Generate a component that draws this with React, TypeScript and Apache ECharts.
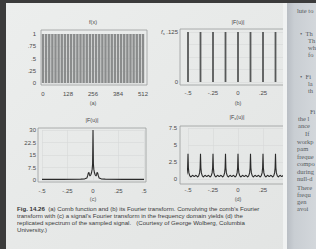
import React, { useEffect, useRef } from 'react';
import * as echarts from 'echarts';

// (a) comb function f(x): positions of teeth and their heights
const combAX = [0, 16, 32, 48, 64, 80, 96, 112, 128, 144, 160, 176, 192, 208, 224, 240, 256, 272, 288, 304, 320, 336, 352, 368, 384, 400, 416, 432, 448, 464, 480, 496, 512];
const combAY = [1, 1, 1, 1, 1, 1, 1, 1, 1, 1, 1, 1, 1, 1, 1, 1, 1, 1, 1, 1, 1, 1, 1, 1, 1, 1, 1, 1, 1, 1, 1, 1, 1];

// (b) Fourier transform of comb
const combBU = [-0.5, -0.375, -0.25, -0.125, 0, 0.125, 0.25, 0.375, 0.5];
const combBV = [0.125, 0.125, 0.125, 0.125, 0.125, 0.125, 0.125, 0.125, 0.125];

// (c) signal spectrum |F(u)|
const specU = [-0.5, -0.3, -0.12, -0.08, -0.06, -0.052, -0.046, -0.04, -0.035, -0.03, -0.022, -0.014, -0.008, -0.004, 0, 0.004, 0.008, 0.014, 0.022, 0.03, 0.035, 0.04, 0.046, 0.052, 0.06, 0.08, 0.12, 0.3, 0.5];
const specV = [0.4, 0.4, 0.5, 0.7, 1.2, 2.6, 4.2, 4.6, 3.2, 2.4, 3.0, 4.5, 6.5, 9.5, 30, 9.5, 6.5, 4.5, 3.0, 2.4, 3.2, 4.6, 4.2, 2.6, 1.2, 0.7, 0.5, 0.4, 0.4];

// (d) sampled spectrum |Fs(u)|: replica centres and one replica's shape
const replicaCentres = [-0.5, -0.375, -0.25, -0.125, 0, 0.125, 0.25, 0.375, 0.5];
const replicaOffsets = [-0.0625, -0.045, -0.03, -0.018, -0.009, -0.004, 0, 0.004, 0.009, 0.018, 0.03, 0.045];
const replicaValues = [0.35, 0.55, 0.3, 0.45, 0.9, 1.6, 3.7, 1.6, 0.9, 0.45, 0.3, 0.55];

// tick labels
const xLabelsA = ['0', '128', '256', '384', '512'];
const yLabelsA = ['0', '.25', '.5', '.75', '1'];
const freqLabels = ['-.5', '-.25', '0', '.25', '.5'];
const yLabelsB = ['0', '', '', '', '{f|f}{s|s} .125'];
const yLabelsC = ['0', '7.5', '15', '22.5', '30'];
const yLabelsD = ['0', '2.5', '5', '7.5'];

const titles = ['f(x)', '|F(u)|', '|F(u)|', '|F'];
const panelTags = ['(a)', '(b)', '(c)', '(d)'];

const captionLines = [
  '{b|Fig. 14.26}  (a) Comb function and (b) its Fourier transform. Convolving the comb\u2019s Fourier',
  'transform with (c) a signal\u2019s Fourier transform in the frequency domain yields (d) the',
  'replicated spectrum of the sampled signal.   (Courtesy of George Wolberg, Columbia',
  'University.)',
];

const rightPageLines: [string, number, number][] = [
  ['lute to', 297, 10],
  ['\u2022  Th', 300, 33],
  ['Th', 308, 40],
  ['wh', 308, 47],
  ['fo', 308, 54],
  ['\u2022  Fi', 300, 76],
  ['la', 308, 83],
  ['th', 308, 90],
  ['Fi', 310, 111],
  ['the l', 298, 118],
  ['ance', 298, 125],
  ['If', 305, 133],
  ['workp', 297, 141],
  ['pam', 297, 148],
  ['freque', 297, 156],
  ['compo', 297, 163],
  ['during', 297, 171],
  ['null-d', 297, 178],
  ['There', 297, 187],
  ['frequ', 297, 194],
  ['gen', 297, 201],
  ['avoi', 297, 208],
];

const FONT = 'Liberation Sans, Arial, sans-serif';
const LABEL = '#4a4a4a';
const SPLIT = '#d6d9d9';

function idxFmt(labels: string[], min: number, step: number) {
  return (v: number) => {
    const i = Math.round((v - min) / step);
    return labels[i] ?? '';
  };
}

export default function App() {
  const ref = useRef<HTMLDivElement>(null);
  useEffect(() => {
    if (!ref.current) return;
    const chart = echarts.init(ref.current, undefined, { renderer: 'svg' });

    const dData: [number, number][] = [];
    replicaCentres.forEach((c) => {
      replicaOffsets.forEach((o, k) => dData.push([c + o, replicaValues[k]]));
    });
    dData.sort((p, q) => p[0] - q[0]);

    const axisLabelBase = { fontSize: 6, color: LABEL, fontFamily: FONT, showMinLabel: true, showMaxLabel: true };
    const splitLine = { show: true, lineStyle: { color: SPLIT, width: 0.6 } };

    const frames = [
      [41, 30, 106, 55],
      [180, 29, 118, 56],
      [38, 128, 108, 54],
      [180, 126, 118, 58],
    ];

    const graphic: any[] = [
      { type: 'rect', shape: { x: 6, y: 3, width: 310, height: 246 }, style: { fill: new echarts.graphic.LinearGradient(0, 0, 1, 1, [{ offset: 0, color: '#eceeed' }, { offset: 1, color: '#e2e4e3' }]) }, z: -10, silent: true },
      ...frames.map((f) => ({ type: 'rect', shape: { x: f[0], y: f[1], width: f[2], height: f[3] }, style: { fill: 'rgba(0,0,0,0)', stroke: '#9a9c9c', lineWidth: 0.8 }, z: 5, silent: true })),
      { type: 'text', x: 93, y: 22, style: { text: titles[0], fontSize: 5.5, fill: '#444', fontFamily: FONT, align: 'center', verticalAlign: 'middle' }, z: 6 },
      { type: 'text', x: 238, y: 22, style: { text: titles[1], fontSize: 5.5, fill: '#444', fontFamily: FONT, align: 'center', verticalAlign: 'middle' }, z: 6 },
      { type: 'text', x: 92, y: 120, style: { text: titles[2], fontSize: 5.5, fill: '#444', fontFamily: FONT, align: 'center', verticalAlign: 'middle' }, z: 6 },
      { type: 'text', x: 237, y: 117, style: { text: '{n|' + titles[3] + '}{s|s}{n|(u)|}', rich: { n: { fontSize: 5.5, fill: '#444', fontFamily: FONT }, s: { fontSize: 4, fill: '#444', fontFamily: FONT, padding: [3, 0, 0, 0] } }, align: 'center', verticalAlign: 'middle' }, z: 6 },
      { type: 'text', x: 93, y: 103, style: { text: panelTags[0], fontSize: 5.5, fill: '#555', fontFamily: FONT, align: 'center', verticalAlign: 'middle' }, z: 6 },
      { type: 'text', x: 238, y: 103, style: { text: panelTags[1], fontSize: 5.5, fill: '#555', fontFamily: FONT, align: 'center', verticalAlign: 'middle' }, z: 6 },
      { type: 'text', x: 93, y: 199, style: { text: panelTags[2], fontSize: 5.5, fill: '#555', fontFamily: FONT, align: 'center', verticalAlign: 'middle' }, z: 6 },
      { type: 'text', x: 238, y: 199, style: { text: panelTags[3], fontSize: 5.5, fill: '#555', fontFamily: FONT, align: 'center', verticalAlign: 'middle' }, z: 6 },
      ...captionLines.map((t, i) => ({
        type: 'text', x: 17, y: 208 + i * 7,
        style: { text: t, fontSize: 6.1, fill: '#3a3a3a', fontFamily: FONT, verticalAlign: 'middle', rich: { b: { fontSize: 6.1, fontWeight: 'bold', fill: '#333', fontFamily: FONT } } },
        z: 6,
      })),
      { type: 'rect', shape: { x: 283, y: 3, width: 5, height: 246 }, style: { fill: '#f0f2f2' }, z: 50, silent: true },
      { type: 'rect', shape: { x: 287, y: 3, width: 29, height: 246 }, style: { fill: new echarts.graphic.LinearGradient(0, 0, 1, 0, [{ offset: 0, color: '#b9bec4' }, { offset: 0.25, color: '#c9ced3' }, { offset: 1, color: '#d3d7db' }]) }, z: 50, silent: true },
      ...rightPageLines.map(([t, x, y]) => ({
        type: 'text', x, y,
        style: { text: t, fontSize: 6.5, fill: '#555a60', fontFamily: 'Liberation Serif, DejaVu Serif, serif', verticalAlign: 'middle' },
        z: 51,
      })),
      { type: 'rect', shape: { x: 0, y: 0, width: 316, height: 3 }, style: { fill: '#3b3b3b' }, z: 60, silent: true },
      { type: 'rect', shape: { x: 0, y: 0, width: 6, height: 249 }, style: { fill: '#3b3b3b' }, z: 60, silent: true },
    ];

    chart.setOption({
      animation: false,
      backgroundColor: '#3b3b3b',
      grid: [
        { left: 43, top: 34, width: 100, height: 49 },
        { left: 188, top: 32, width: 100, height: 50 },
        { left: 42, top: 130, width: 102, height: 50 },
        { left: 188, top: 128, width: 100, height: 51 },
      ],
      xAxis: [
        { gridIndex: 0, type: 'value', min: 0, max: 512, interval: 128, axisLine: { show: false }, axisTick: { show: false }, splitLine, axisLabel: { ...axisLabelBase, margin: 8, formatter: idxFmt(xLabelsA, 0, 128) } },
        { gridIndex: 1, type: 'value', min: -0.5, max: 0.5, interval: 0.25, axisLine: { show: false }, axisTick: { show: false }, splitLine, axisLabel: { ...axisLabelBase, margin: 8, formatter: idxFmt(freqLabels, -0.5, 0.25) } },
        { gridIndex: 2, type: 'value', min: -0.5, max: 0.5, interval: 0.25, axisLine: { show: false }, axisTick: { show: false }, splitLine, axisLabel: { ...axisLabelBase, margin: 8, formatter: idxFmt(freqLabels, -0.5, 0.25) } },
        { gridIndex: 3, type: 'value', min: -0.5, max: 0.5, interval: 0.25, axisLine: { show: false }, axisTick: { show: false }, splitLine, axisLabel: { ...axisLabelBase, margin: 8, formatter: idxFmt(freqLabels, -0.5, 0.25) } },
      ],
      yAxis: [
        { gridIndex: 0, type: 'value', min: 0, max: 1, interval: 0.25, axisLine: { show: false }, axisTick: { show: false }, splitLine, axisLabel: { ...axisLabelBase, margin: 7, formatter: idxFmt(yLabelsA, 0, 0.25) } },
        { gridIndex: 1, type: 'value', min: 0, max: 0.125, interval: 0.03125, axisLine: { show: false }, axisTick: { show: false }, splitLine, axisLabel: { ...axisLabelBase, margin: 10, formatter: idxFmt(yLabelsB, 0, 0.03125), rich: { f: { fontSize: 6, fontStyle: 'italic', color: LABEL, fontFamily: FONT }, s: { fontSize: 4, color: LABEL, fontFamily: FONT, padding: [3, 0, 0, 0] } } } },
        { gridIndex: 2, type: 'value', min: 0, max: 30, interval: 7.5, axisLine: { show: false }, axisTick: { show: false }, splitLine, axisLabel: { ...axisLabelBase, margin: 6, formatter: idxFmt(yLabelsC, 0, 7.5) } },
        { gridIndex: 3, type: 'value', min: 0, max: 7.5, interval: 2.5, axisLine: { show: false }, axisTick: { show: false }, splitLine, axisLabel: { ...axisLabelBase, margin: 11, formatter: idxFmt(yLabelsD, 0, 2.5) } },
      ],
      series: [
        { type: 'bar', xAxisIndex: 0, yAxisIndex: 0, barWidth: 2.4, itemStyle: { color: '#8a8c8c' }, data: combAX.map((x, i) => [x, combAY[i]]), silent: true },
        { type: 'bar', xAxisIndex: 1, yAxisIndex: 1, barWidth: 1.8, itemStyle: { color: '#575959' }, data: combBU.map((u, i) => [u, combBV[i]]), silent: true },
        { type: 'line', xAxisIndex: 2, yAxisIndex: 2, showSymbol: false, lineStyle: { color: '#2a2a2a', width: 1.1 }, data: specU.map((u, i) => [u, specV[i]]), silent: true },
        { type: 'line', xAxisIndex: 3, yAxisIndex: 3, showSymbol: false, lineStyle: { color: '#2a2a2a', width: 1.1 }, data: dData, silent: true },
      ],
      graphic,
    });
    return () => chart.dispose();
  }, []);
  return <div ref={ref} style={{ position: 'fixed', left: 0, top: 0, width: 316, height: 249 }} />;
}
